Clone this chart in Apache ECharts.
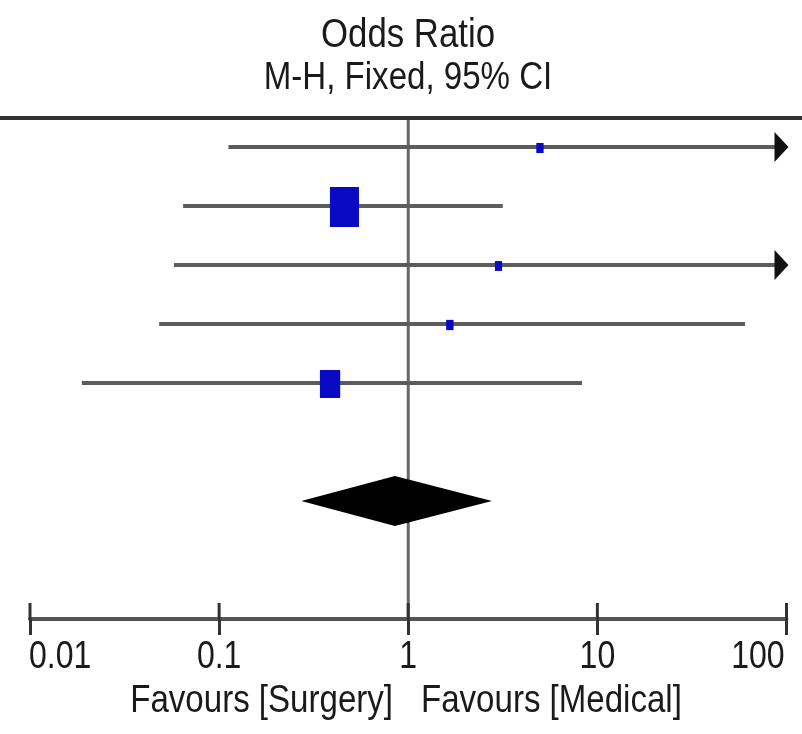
<!DOCTYPE html>
<html><head><meta charset="utf-8">
<script src="https://cdn.jsdelivr.net/npm/echarts@6/dist/echarts.min.js"></script>
<style>html,body{margin:0;padding:0;background:#fff}#c{width:802px;height:734px}</style>
</head><body><div id="c"></div>
<script>
// ---- data ----
const studyRows  = [1, 2, 3, 4, 5];
const oddsRatio  = [4.97, 0.46, 3.0, 1.66, 0.386];
const ciLow      = [0.112, 0.0645, 0.0577, 0.0482, 0.0188];
const ciHigh     = [250, 3.16, 250, 60.4, 8.29];
const weights    = [3.8, 59.6, 3.6, 3.9, 29.1];
const pooledRow  = [7];
const pooledOR   = [0.85];
const pooledLow  = [0.272];
const pooledHigh = [2.77];
const tickValues = [0.01, 0.1, 1, 10, 100];
const tickLabels = ['0.01', '0.1', '1', '10', '100'];
const titleText  = ['Odds Ratio', 'M-H, Fixed, 95% CI'];
const favours    = ['Favours [Surgery]', 'Favours [Medical]'];

const AX_MIN = tickValues[0], AX_MAX = tickValues[tickValues.length - 1];
const Y_MAX = 9;
const FONT = "'Liberation Sans Narrow', 'Arial Narrow', 'Liberation Sans', sans-serif";
const NARROW = 0.87;

const studyData = studyRows.map((r, i) => [r, oddsRatio[i], ciLow[i], ciHigh[i], weights[i]]);
const pooledData = pooledRow.map((r, i) => [r, pooledOR[i], pooledLow[i], pooledHigh[i]]);
const tickData = tickValues.map((t, i) => [t, Y_MAX, i]);

const chart = echarts.init(document.getElementById('c'), null, {renderer: 'canvas'});

function txt(x, y, s, size, align) {
  return {type: 'text', x: x, y: y, scaleX: NARROW,
    style: {text: s, fontSize: size, fontFamily: FONT, fill: '#1a1a1a', align: align, verticalAlign: 'middle'}};
}

chart.setOption({
  animation: false,
  backgroundColor: '#ffffff',
  grid: {left: 30, right: 15.5, top: 88, bottom: 115, containLabel: false},
  xAxis: {
    type: 'log', logBase: 10, min: AX_MIN, max: AX_MAX, position: 'bottom',
    splitLine: {show: false},
    axisLine: {show: true, onZero: false, lineStyle: {color: '#555', width: 4}},
    axisTick: {show: true, inside: false, length: 16, lineStyle: {color: '#333', width: 3}},
    axisLabel: {show: false}
  },
  yAxis: {type: 'value', inverse: true, min: 0, max: Y_MAX, show: false},
  graphic: [
    {type: 'rect', shape: {x: 0, y: 116, width: 802, height: 4}, style: {fill: '#333'}, z: 10},
    txt(408, 36, titleText[0], 40, 'center'),
    txt(408, 79, titleText[1], 38, 'center'),
    txt(393, 702, favours[0], 38, 'right'),
    txt(421, 702, favours[1], 38, 'left')
  ],
  series: [
    {
      type: 'custom', name: 'no effect', z: 1,
      data: [[1, 0.5, Y_MAX]],
      encode: {x: 0, y: [1, 2]},
      renderItem: function (params, api) {
        const a = api.coord([api.value(0), api.value(1)]);
        const b = api.coord([api.value(0), api.value(2)]);
        return {type: 'line', shape: {x1: a[0], y1: a[1], x2: b[0], y2: b[1]}, style: {stroke: '#666', lineWidth: 3}};
      }
    },
    {
      type: 'custom', name: 'axis ticks and labels', z: 2,
      data: tickData,
      encode: {x: 0, y: 1},
      renderItem: function (params, api) {
        const p = api.coord([api.value(0), api.value(1)]);
        const i = api.value(2);
        const n = tickValues.length;
        const align = i === 0 ? 'left' : (i === n - 1 ? 'right' : 'center');
        const lx = p[0] + (i === 0 ? -1 : (i === n - 1 ? -2 : 0));
        return {type: 'group', children: [
          {type: 'line', shape: {x1: p[0], y1: p[1], x2: p[0], y2: p[1] - 16}, style: {stroke: '#333', lineWidth: 3}},
          {type: 'text', x: lx, y: p[1] + 38, scaleX: 0.82,
            style: {text: tickLabels[i], fontSize: 39, fontFamily: FONT, fill: '#1a1a1a', align: align, verticalAlign: 'middle'}}
        ]};
      }
    },
    {
      type: 'custom', name: 'studies', z: 3,
      data: studyData,
      encode: {x: [1, 2, 3], y: 0},
      renderItem: function (params, api) {
        const row = api.value(0), or = api.value(1), lo = api.value(2), hi = api.value(3), w = api.value(4);
        const capped = hi > AX_MAX;
        const pLo = api.coord([Math.max(lo, AX_MIN), row]);
        const pHi = api.coord([capped ? AX_MAX : hi, row]);
        const pM = api.coord([or, row]);
        const bw = 3.76 * Math.sqrt(w), bh = bw * 1.38;
        const ch = [
          {type: 'line', shape: {x1: pLo[0], y1: pLo[1], x2: pHi[0] - (capped ? 6 : 0), y2: pHi[1]}, style: {stroke: '#5c5c5c', lineWidth: 4}},
          {type: 'rect', shape: {x: pM[0] - bw / 2, y: pM[1] - bh / 2 + 1, width: bw, height: bh}, style: {fill: '#0a0ac4'}, z2: 5}
        ];
        if (capped) {
          ch.push({type: 'polygon', shape: {points: [[pHi[0] - 12, pHi[1] - 15], [pHi[0] + 2, pHi[1]], [pHi[0] - 12, pHi[1] + 15]]}, style: {fill: '#111'}});
        }
        return {type: 'group', children: ch};
      }
    },
    {
      type: 'custom', name: 'pooled', z: 4,
      data: pooledData,
      encode: {x: [1, 2, 3], y: 0},
      renderItem: function (params, api) {
        const row = api.value(0);
        const c = api.coord([api.value(1), row]);
        const l = api.coord([api.value(2), row]);
        const r = api.coord([api.value(3), row]);
        const h = 25;
        return {type: 'polygon', shape: {points: [[l[0], l[1]], [c[0], c[1] - h], [r[0], r[1]], [c[0], c[1] + h]]}, style: {fill: '#000'}};
      }
    }
  ]
});
</script>
</body></html>
